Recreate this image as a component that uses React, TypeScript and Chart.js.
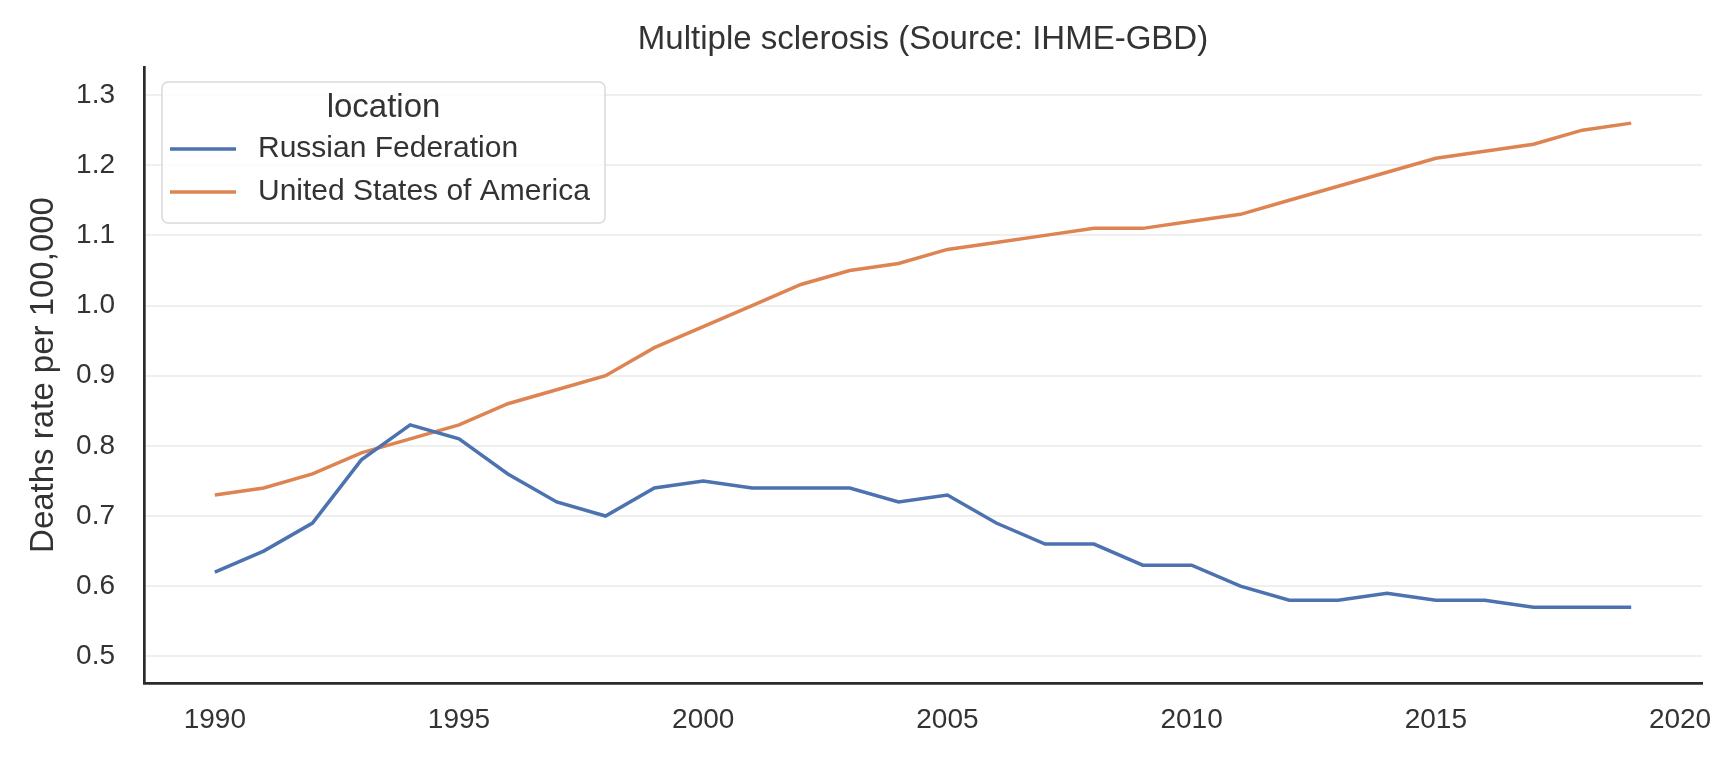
import { useEffect, useRef } from 'react';
import { Chart, registerables } from 'chart.js';

Chart.register(...registerables);

const years = [
  1990, 1991, 1992, 1993, 1994, 1995, 1996, 1997, 1998, 1999,
  2000, 2001, 2002, 2003, 2004, 2005, 2006, 2007, 2008, 2009,
  2010, 2011, 2012, 2013, 2014, 2015, 2016, 2017, 2018, 2019,
];

const russia = [
  0.62, 0.65, 0.69, 0.78, 0.83, 0.81, 0.76, 0.72, 0.70, 0.74,
  0.75, 0.74, 0.74, 0.74, 0.72, 0.73, 0.69, 0.66, 0.66, 0.63,
  0.63, 0.60, 0.58, 0.58, 0.59, 0.58, 0.58, 0.57, 0.57, 0.57,
];

const usa = [
  0.73, 0.74, 0.76, 0.79, 0.81, 0.83, 0.86, 0.88, 0.90, 0.94,
  0.97, 1.00, 1.03, 1.05, 1.06, 1.08, 1.09, 1.10, 1.11, 1.11,
  1.12, 1.13, 1.15, 1.17, 1.19, 1.21, 1.22, 1.23, 1.25, 1.26,
];

const seriesNames = ['Russian Federation', 'United States of America'];
const seriesColors = ['#4C72B0', '#DD8452'];

const FONT = '"Liberation Sans", Arial, sans-serif';
const TEXT = '#333333';

// titre centré sur la zone du graphique + légende encadrée en haut à gauche
const overlayPlugin = {
  id: 'overlay',
  afterDraw(chart: any) {
    const { ctx, chartArea } = chart;
    ctx.save();
    ctx.fillStyle = TEXT;
    ctx.font = `33px ${FONT}`;
    ctx.textAlign = 'center';
    ctx.textBaseline = 'middle';
    ctx.fillText('Multiple sclerosis (Source: IHME-GBD)', (chartArea.left + chartArea.right) / 2, 40);

    const bx = chartArea.left + 18;
    const by = chartArea.top + 15;
    const bw = 443;
    const bh = 141;
    ctx.beginPath();
    ctx.roundRect(bx, by, bw, bh, 6);
    ctx.fillStyle = 'rgba(255,255,255,0.8)';
    ctx.fill();
    ctx.strokeStyle = '#d9d9d9';
    ctx.lineWidth = 1.5;
    ctx.stroke();

    ctx.fillStyle = TEXT;
    ctx.font = `33px ${FONT}`;
    ctx.textAlign = 'center';
    ctx.fillText('location', bx + bw / 2, by + 26);

    ctx.font = `30px ${FONT}`;
    ctx.textAlign = 'left';
    chart.data.datasets.forEach((ds: any, i: number) => {
      const y = by + 67 + i * 43;
      ctx.strokeStyle = ds.borderColor;
      ctx.lineWidth = 3.5;
      ctx.beginPath();
      ctx.moveTo(bx + 8, y);
      ctx.lineTo(bx + 74, y);
      ctx.stroke();
      ctx.fillStyle = TEXT;
      ctx.fillText(ds.label, bx + 96, y);
    });
    ctx.restore();
  },
};

export default function App() {
  const chartRef = useRef<HTMLCanvasElement>(null);
  const chartInstance = useRef<Chart | null>(null);

  useEffect(() => {
    document.body.style.margin = '0';
    if (!chartRef.current) return;
    if (chartInstance.current) {
      chartInstance.current.destroy();
    }
    const ctx = chartRef.current.getContext('2d');
    if (!ctx) return;

    const datasets = [russia, usa].map((values, i) => ({
      label: seriesNames[i],
      data: years.map((yr, j) => ({ x: yr, y: values[j] })),
      borderColor: seriesColors[i],
      backgroundColor: seriesColors[i],
      borderWidth: 3.5,
      pointRadius: 0,
      tension: 0,
      fill: false,
    }));

    chartInstance.current = new Chart(ctx, {
      type: 'line',
      data: { datasets },
      options: {
        responsive: true,
        maintainAspectRatio: false,
        animation: false,
        layout: { padding: { left: 0, top: 67, right: 32, bottom: 0 } },
        plugins: {
          legend: { display: false },
          title: { display: false },
          tooltip: { enabled: false },
        },
        scales: {
          x: {
            type: 'linear',
            min: 1988.55,
            max: 2020.45,
            afterFit: (scale: any) => {
              scale.height = 77;
            },
            ticks: {
              stepSize: 5,
              includeBounds: false,
              color: TEXT,
              padding: 20,
              maxRotation: 0,
              font: { family: FONT, size: 28 },
              callback: (v: any) => String(v),
            },
            grid: { display: false, drawTicks: false },
            border: { display: true, color: '#2b2b2b', width: 2.7 },
          },
          y: {
            type: 'linear',
            min: 0.462,
            max: 1.34,
            afterFit: (scale: any) => {
              scale.width = 144;
            },
            ticks: {
              stepSize: 0.1,
              includeBounds: false,
              color: TEXT,
              padding: 29,
              font: { family: FONT, size: 28 },
              callback: (v: any) => Number(v).toFixed(1),
            },
            grid: { color: '#efefef', lineWidth: 2, drawTicks: false },
            border: { display: true, color: '#2b2b2b', width: 2.7 },
            title: {
              display: true,
              text: 'Deaths rate per 100,000',
              color: TEXT,
              font: { family: FONT, size: 33 },
              padding: { top: 24, bottom: 0 },
            },
          },
        },
      },
      plugins: [overlayPlugin],
    });

    return () => {
      if (chartInstance.current) {
        chartInstance.current.destroy();
        chartInstance.current = null;
      }
    };
  }, []);

  return (
    <div style={{ position: 'relative', width: 1734, height: 760 }}>
      <canvas ref={chartRef} />
    </div>
  );
}
